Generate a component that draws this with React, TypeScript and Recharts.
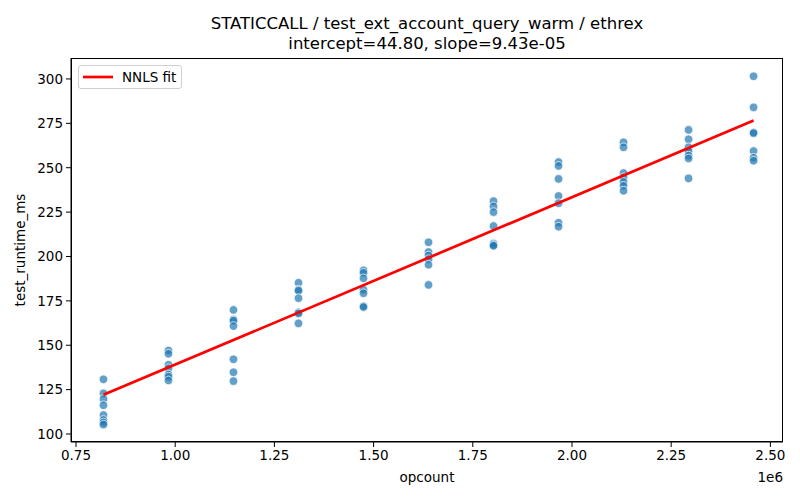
import { ScatterChart, Scatter, XAxis, YAxis, Legend } from 'recharts'

// opcount per run group (10 steps of 163840)
const OPCOUNTS = [
  819200, 983040, 1146880, 1310720, 1474560, 1638400, 1802240, 1966080, 2129920, 2293760, 2457600,
]

// measured runtimes (ms) for each opcount, read column by column
const RUNTIMES: number[][] = [
  [130.8, 122.9, 119.7, 116.2, 110.7, 107.9, 106.5, 105.3],
  [147.0, 145.2, 139.0, 137.0, 133.5, 132.3, 130.2],
  [169.9, 164.5, 163.8, 160.8, 142.1, 134.8, 129.8],
  [185.2, 181.3, 180.7, 176.5, 168.5, 167.9, 162.3],
  [192.2, 190.8, 187.7, 181.3, 179.3, 172.0, 171.5],
  [208.0, 202.5, 200.5, 198.5, 195.3, 184.0],
  [231.2, 228.2, 225.0, 217.2, 207.3, 206.5, 206.0],
  [253.2, 251.0, 243.7, 234.1, 230.0, 219.0, 216.8],
  [264.3, 261.5, 247.0, 244.6, 242.0, 239.8, 237.0],
  [271.3, 266.0, 261.5, 259.3, 256.8, 255.2, 244.0],
  [301.5, 284.0, 269.8, 269.5, 259.4, 255.6, 253.9],
]

const INTERCEPT = 44.8
const SLOPE = 9.43e-5

const X_TICKS = [750000, 1000000, 1250000, 1500000, 1750000, 2000000, 2250000, 2500000]
const Y_TICKS = [100, 125, 150, 175, 200, 225, 250, 275, 300]

const points = OPCOUNTS.flatMap((x, i) => RUNTIMES[i].map((y) => ({ x, y })))

const fitLine = [OPCOUNTS[0], OPCOUNTS[OPCOUNTS.length - 1]].map((x) => ({
  x,
  y: INTERCEPT + SLOPE * x,
}))

const FONT = '"DejaVu Sans", sans-serif'

const Dot = (props: any) => (
  <circle
    cx={props.cx}
    cy={props.cy}
    r={4.3}
    fill="#1f77b4"
    fillOpacity={0.7}
    stroke="#ffffff"
    strokeWidth={0.7}
  />
)

const LegendBox = () => (
  <div
    style={{
      width: 104,
      height: 24,
      border: '1px solid #d0d0d0',
      borderRadius: 3,
      background: 'rgba(255,255,255,0.8)',
      display: 'flex',
      alignItems: 'center',
      fontFamily: FONT,
      fontSize: 13.5,
      boxSizing: 'border-box',
    }}
  >
    <svg width={43} height={10} style={{ marginLeft: 3 }}>
      <line x1={1} y1={5} x2={31} y2={5} stroke="red" strokeWidth={2.7} />
    </svg>
    <span style={{ marginLeft: -3 }}>NNLS fit</span>
  </div>
)

export default function App() {
  return (
    <div style={{ position: 'absolute', left: 0, top: 0, width: 800, height: 500, background: '#fff' }}>
      <div
        style={{
          position: 'absolute',
          left: 71,
          width: 712,
          top: 14,
          textAlign: 'center',
          fontFamily: FONT,
          fontSize: 16.5,
          lineHeight: '20px',
        }}
      >
        STATICCALL / test_ext_account_query_warm / ethrex
        <br />
        intercept=44.80, slope=9.43e-05
      </div>
      <ScatterChart width={800} height={500} margin={{ top: 58, right: 17, bottom: 0, left: 0 }}>
        <XAxis
          type="number"
          dataKey="x"
          domain={[737400, 2531800]}
          ticks={X_TICKS}
          allowDataOverflow
          tickFormatter={(v: number) => (v / 1e6).toFixed(2)}
          height={58}
          tickSize={5}
          tickMargin={3}
          stroke="#000"
          tick={{ fill: '#000', fontSize: 13.5, fontFamily: FONT }}
          label={{ value: 'opcount', position: 'insideBottom', offset: 18, fill: '#000', fontSize: 13.5, fontFamily: FONT }}
        />
        <YAxis
          type="number"
          dataKey="y"
          domain={[95.5, 311.8]}
          ticks={Y_TICKS}
          allowDataOverflow
          width={71}
          tickSize={5}
          tickMargin={3}
          stroke="#000"
          tick={{ fill: '#000', fontSize: 13.5, fontFamily: FONT }}
          label={{
            value: 'test_runtime_ms',
            angle: -90,
            position: 'insideLeft',
            offset: 20,
            style: { textAnchor: 'middle' },
            fill: '#000',
            fontSize: 13.5,
            fontFamily: FONT,
          }}
        />
        <Scatter data={points} shape={Dot} isAnimationActive={false} />
        <Scatter
          data={fitLine}
          line={{ stroke: 'red', strokeWidth: 2.7 }}
          shape={() => <g />}
          isAnimationActive={false}
        />
        <Legend
          layout="vertical"
          align="center"
          verticalAlign="middle"
          content={<LegendBox />}
          wrapperStyle={{ left: 78, top: 65, width: 104, height: 24 }}
        />
      </ScatterChart>
      <div
        style={{
          position: 'absolute',
          left: 71,
          top: 58,
          width: 712,
          height: 384,
          border: '1px solid #000',
          boxSizing: 'border-box',
          pointerEvents: 'none',
        }}
      />
      <div
        style={{
          position: 'absolute',
          right: 17,
          top: 469,
          fontFamily: FONT,
          fontSize: 13.5,
        }}
      >
        1e6
      </div>
    </div>
  )
}
